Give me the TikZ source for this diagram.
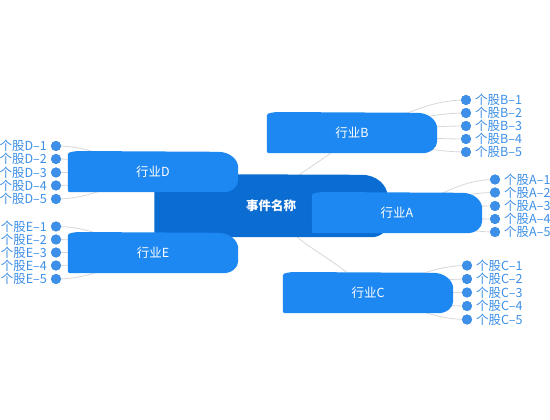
\documentclass[tikz,border=0pt]{standalone}
\usepackage{fontspec}
\setmainfont{Noto Sans CJK SC}
\usetikzlibrary{calc}
\definecolor{indblue}{HTML}{1E88F2}
\definecolor{ctrblue}{HTML}{0B6CD2}
\definecolor{leafblue}{HTML}{3D8FE8}
\definecolor{linegray}{HTML}{D8D8D8}
\tikzset{
  box/.style={inner sep=0pt, minimum width=170pt, minimum height=40pt, text=white, font=\fontsize{12.5}{14}\selectfont},
  ctrbox/.style={inner sep=0pt, minimum width=233pt, minimum height=62pt, text=white, font=\fontsize{12.5}{14}\selectfont\bfseries},
  dot/.style={circle, fill=leafblue, inner sep=0pt, minimum size=10pt},
  leafr/.style={anchor=west, text=leafblue, inner sep=0pt, font=\fontsize{12.5}{14}\selectfont},
  leafl/.style={anchor=east, text=leafblue, inner sep=0pt, font=\fontsize{12.5}{14}\selectfont},
  conn/.style={draw=linegray, line width=0.8pt},
}
% node, color, top-right rx, top-right ry, bottom-right rx, bottom-right ry
\newcommand{\blob}[6]{%
  \fill[#2] ([yshift=5pt]#1.south west)
    -- ([yshift=-5pt]#1.north west) .. controls ([yshift=-0.5pt]#1.north west) .. ([xshift=10pt,yshift=0.8pt]#1.north west)
    -- ([xshift=-#3]#1.north east) .. controls ([xshift=-0.45*#3]#1.north east) and ([yshift=-0.45*#4]#1.north east) .. ([yshift=-#4]#1.north east)
    -- ([yshift=#6]#1.south east) .. controls ([yshift=0.45*#6]#1.south east) and ([xshift=-0.45*#5]#1.south east) .. ([xshift=-#5]#1.south east)
    -- ([xshift=5pt]#1.south west) .. controls (#1.south west) .. ([yshift=5pt]#1.south west) -- cycle;}
\begin{document}
\begin{tikzpicture}[x=1pt,y=-1pt]
\useasboundingbox[fill=white] (0,0) rectangle (550,420);
% nodes (invisible frames)
\node[ctrbox] (ctr) at (271,206) {};
\node[box] (B) at (352,133) {};
\node[box] (D) at (153,172) {};
\node[box] (A) at (397,213) {};
\node[box] (E) at (153,253) {};
\node[box] (C) at (368,293) {};
% dots and leaves
\foreach \y [count=\i] in {100,113,126,139,152}{
  \node[dot] (B\i) at (466,\y) {};
  \node[leafr] at ([xshift=9pt]B\i.center) {个股B–\i};}
\foreach \y [count=\i] in {179.5,192.5,206,219,232}{
  \node[dot] (A\i) at (495,\y) {};
  \node[leafr] at ([xshift=9pt]A\i.center) {个股A–\i};}
\foreach \y [count=\i] in {265.5,279,292.5,306,319.5}{
  \node[dot] (C\i) at (467,\y) {};
  \node[leafr] at ([xshift=9pt]C\i.center) {个股C–\i};}
\foreach \y [count=\i] in {146,159,172.5,185.5,199}{
  \node[dot] (D\i) at (56,\y) {};
  \node[leafl] at ([xshift=-9pt]D\i.center) {个股D–\i};}
\foreach \y [count=\i] in {226.5,239.5,252.5,265.5,279}{
  \node[dot] (E\i) at (56,\y) {};
  \node[leafl] at ([xshift=-9pt]E\i.center) {个股E–\i};}
% connectors
\foreach \i in {1,...,5}{
  \draw[conn] ([xshift=-20pt]B.center) to[out=0,in=180] (B\i.center);
  \draw[conn] ([xshift=-20pt]A.center) to[out=0,in=180] (A\i.center);
  \draw[conn] ([xshift=-20pt]C.center) to[out=0,in=180] (C\i.center);
  \draw[conn] ([xshift=20pt]D.center) to[out=180,in=0] (D\i.center);
  \draw[conn] ([xshift=20pt]E.center) to[out=180,in=0] (E\i.center);}
\draw[conn] (ctr.center) to[out=60,in=230] (B.center);
\draw[conn] (ctr.center) to[out=-60,in=130] (C.center);
\draw[conn] (ctr.center) to[out=0,in=180] (A.center);
\draw[conn] (ctr.center) to[out=180,in=0] (D.center);
\draw[conn] (ctr.center) to[out=180,in=0] (E.center);
% redraw dots above lines
\foreach \n in {A,B,C,D,E}{\foreach \i in {1,...,5}{\fill[leafblue] (\n\i) circle (5pt);}}
% shapes
\blob{ctr}{ctrblue}{26pt}{22pt}{16pt}{14pt}
\node[ctrbox] at (ctr) {事件名称};
\foreach \n/\t in {B/行业B,D/行业D,A/行业A,E/行业E,C/行业C}{
  \blob{\n}{indblue}{20pt}{16pt}{15pt}{12pt}
  \node[box] at (\n) {\t};}
\end{tikzpicture}
\end{document}
